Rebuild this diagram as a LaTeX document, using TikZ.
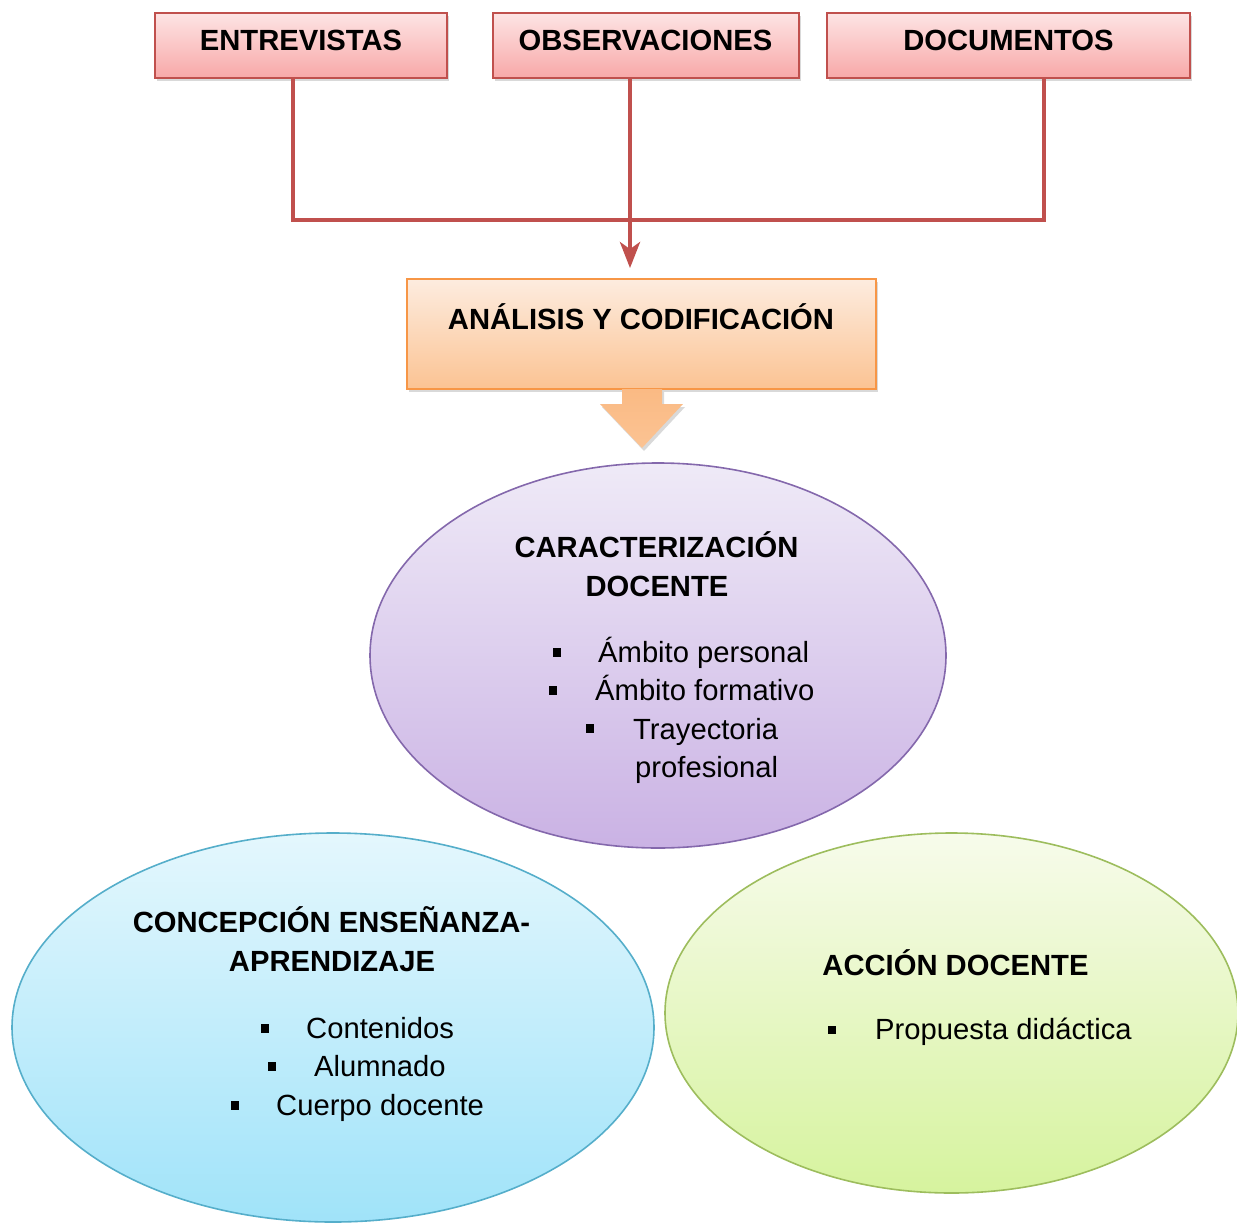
\documentclass[tikz,border=0pt]{standalone}
\usepackage{fontspec}
\setmainfont{Liberation Sans}
\usetikzlibrary{shapes.geometric,arrows.meta,shadows}
\definecolor{redline}{HTML}{C0504D}
\definecolor{pinktop}{HTML}{FDE4E4}
\definecolor{pinkbot}{HTML}{F8A8A8}
\definecolor{orline}{HTML}{F79646}
\definecolor{ortop}{HTML}{FDECDF}
\definecolor{orbot}{HTML}{FBC393}
\definecolor{pupline}{HTML}{8468AC}
\definecolor{puptop}{HTML}{EFEAF7}
\definecolor{pupbot}{HTML}{CAB2E4}
\definecolor{bluline}{HTML}{55AECA}
\definecolor{blutop}{HTML}{E4F7FD}
\definecolor{blubot}{HTML}{A0E3F9}
\definecolor{grnline}{HTML}{9DBD5D}
\definecolor{grntop}{HTML}{F7FBEB}
\definecolor{grnbot}{HTML}{D6F39E}
\begin{document}
\begin{tikzpicture}[x=1pt,y=-1pt,
  font=\fontsize{29.2}{39}\selectfont,
  shad/.style={drop shadow={opacity=0.25,shadow xshift=2pt,shadow yshift=-3pt,fill=black!60}},
  topbox/.style={draw=redline,line width=2pt,top color=pinktop,bottom color=pinkbot,minimum height=65pt,inner sep=0pt,shad},
  anabox/.style={draw=orline,line width=1.8pt,top color=ortop,bottom color=orbot,minimum height=110pt,minimum width=469pt,inner sep=0pt,shad},
  oval/.style={ellipse,inner sep=0pt,line width=1.6pt},
  title/.style={font=\fontsize{29.2}{39}\selectfont\bfseries,inner sep=0pt,anchor=base},
  item/.style={inner sep=0pt,anchor=base west},
  bul/.style={fill=black,minimum size=8.5pt,inner sep=0pt},
  conn/.style={draw=redline,line width=4.5pt}
]
\useasboundingbox (0,0) rectangle (1237,1223);

% top boxes
\node[topbox,minimum width=292pt] (ent) at (301,45.5) {};
\node[topbox,minimum width=306pt] (obs) at (646,45.5) {};
\node[topbox,minimum width=363pt] (doc) at (1008.5,45.5) {};
\node[title] (entT) at (301,51) {ENTREVISTAS};
\node[title] (obsT) at (645.5,51) {OBSERVACIONES};
\node[title] (docT) at (1008.5,51) {DOCUMENTOS};

% analysis box
\node[anabox] (ana) at (641.5,334) {};
\node[title] (anaT) at (641,329) {ANÁLISIS Y CODIFICACIÓN};

% connectors
\coordinate (j1) at (293,220);
\coordinate (j2) at (1044,220);
\coordinate (ox) at (630,220);
\draw[conn] (ent.south -| j1) -- (j1) -- (j2) -- (doc.south -| j2);
\draw[conn,-{Stealth[length=26pt,width=20pt,inset=7pt]},shorten >=10pt] (obs.south -| ox) -- (ana.north -| ox);

% block arrow
\path[top color=orbot!80!orline,bottom color=orbot,shad]
  (622,389) -- (662,389) -- (662,404) -- (683,404) -- (642,448) -- (600,404) -- (622,404) -- cycle;

% ellipses
\node[oval,draw=pupline,top color=puptop,bottom color=pupbot,minimum width=576pt,minimum height=385pt] (car) at (658,655.5) {};
\node[oval,draw=bluline,top color=blutop,bottom color=blubot,minimum width=642pt,minimum height=389pt] (con) at (333,1027.5) {};
\node[oval,draw=grnline,top color=grntop,bottom color=grnbot,minimum width=573pt,minimum height=360pt] (acc) at (951.5,1013) {};

% caracterizacion
\node[title] (carT1) at (656.5,557) {CARACTERIZACIÓN};
\node[title] (carT2) at (657,596) {DOCENTE};
\node[bul] (cb1) at (557,652.5) {};
\node[item] (ci1) at (598,662) {Ámbito personal};
\node[bul] (cb2) at (553,690.5) {};
\node[item] (ci2) at (595,700) {Ámbito formativo};
\node[bul] (cb3) at (590,728.5) {};
\node[item] (ci3) at (633,739) {Trayectoria};
\node[item] (ci4) at (635,777) {profesional};

% concepcion
\node[title] (conT1) at (331.5,932) {CONCEPCIÓN ENSEÑANZA-};
\node[title] (conT2) at (332,971) {APRENDIZAJE};
\node[bul] (nb1) at (265,1028.5) {};
\node[item] (ni1) at (306,1038) {Contenidos};
\node[bul] (nb2) at (272,1066.5) {};
\node[item] (ni2) at (314,1076) {Alumnado};
\node[bul] (nb3) at (235,1105.5) {};
\node[item] (ni3) at (276,1115) {Cuerpo docente};

% accion
\node[title] (accT) at (955.5,975) {ACCIÓN DOCENTE};
\node[bul] (ab1) at (832,1030) {};
\node[item] (ai1) at (875,1039) {Propuesta didáctica};
\end{tikzpicture}
\end{document}
